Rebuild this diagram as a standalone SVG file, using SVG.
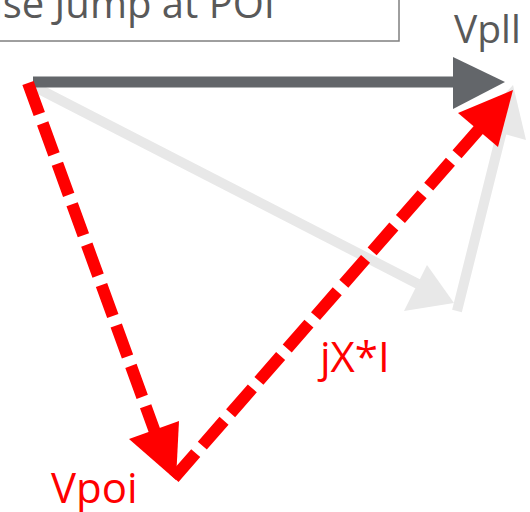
<svg xmlns="http://www.w3.org/2000/svg" width="530" height="512" viewBox="0 0 530 512">
<style>
.lbl{font-family:"Open Sans","Liberation Sans",sans-serif;}
.gray-t{fill:#595959;}
.red-t{fill:#FF0000;}
.light{stroke:#E8E8E8;stroke-width:10;fill:none;}
.lighth{fill:#E8E8E8;}
.dark{stroke:#63666A;stroke-width:11;fill:none;}
.darkh{fill:#63666A;}
.red{stroke:#FF0000;stroke-width:12;fill:none;stroke-dasharray:33 10;}
.redh{fill:#FF0000;}
</style>
<g id="title">
<rect x="-20" y="-20" width="419" height="61" fill="#FFFFFF" stroke="#7F7F7F" stroke-width="1.5"/>
<text class="lbl gray-t" x="275" y="18" font-size="40" text-anchor="end">Phase Jump at POI</text>
</g>
<g id="connectors">
<g id="vload-light">
<line class="light" x1="33" y1="86" x2="418" y2="284"/>
<polygon class="lighth" points="427,265 454,303 404,311"/>
</g>
<g id="jx-light">
<line class="light" x1="457" y1="311" x2="506" y2="115"/>
<polygon class="lighth" points="513,85 526,140 475,126"/>
</g>
<g id="vpll-arrow">
<line class="dark" x1="33" y1="82" x2="456" y2="82"/>
<polygon class="darkh" points="453,57 505,82 453,109"/>
</g>
<g id="vpoi-arrow">
<line class="red" x1="28" y1="83" x2="155" y2="432"/>
<polygon class="redh" points="129,439 176,480 179,421"/>
</g>
<g id="jxi-arrow">
<line class="red" x1="174" y1="478" x2="480" y2="128"/>
<polygon class="redh" points="458,113 513,90 498,147"/>
</g>
</g>
<g id="vpll">
<text class="lbl gray-t" x="454" y="43" font-size="39">Vpll</text>
</g>
<g id="jxi">
<text class="lbl red-t" x="320" y="372" font-size="42">jX*I</text>
</g>
<g id="vpoi">
<text class="lbl red-t" x="51" y="503" font-size="42">Vpoi</text>
</g>
</svg>
